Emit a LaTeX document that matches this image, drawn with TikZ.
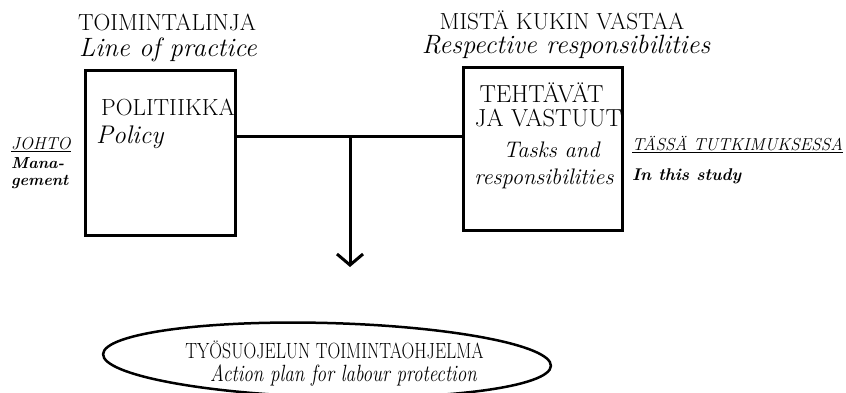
\documentclass[tikz,border=0pt]{standalone}
\usepackage{graphicx}
\usetikzlibrary{arrows.meta,calc}
\begin{document}
\begin{tikzpicture}[x=1pt,y=-1pt,
  frame/.style={draw,line width=3pt,minimum width=#1,inner sep=0pt},
  lbl/.style={inner sep=0pt,anchor=center},
  head/.style={lbl,font=\fontsize{23.3}{25}\selectfont},
  boxhead/.style={lbl,font=\fontsize{24.6}{26}\selectfont},
  headit/.style={lbl,font=\fontsize{26.5}{28}\selectfont\itshape},
  boxit/.style={lbl,font=\fontsize{22.5}{24}\selectfont\itshape},
  side/.style={lbl,anchor=west,font=\fontsize{17.3}{19}\selectfont\itshape},
  sidebf/.style={lbl,anchor=west,font=\fontsize{16}{18}\selectfont\bfseries\itshape},
  conn/.style={line width=3pt}]
\useasboundingbox (0,0) rectangle (846,393);
\begin{scope}
\clip (0,0) rectangle (846,393);

% column headings
\node[head] (h1) at (167,22) {TOIMINTALINJA};
\node[headit] (h1e) at (168,50) {Line of practice};
\node[head] (h2) at (562,20) {MISTÄ KUKIN VASTAA};
\node[headit] (h2e) at (566,47) {Respective responsibilities};

% the two boxes
\node[frame=150pt,minimum height=164pt] (lbox) at (160,153) {};
\node[frame=159pt,minimum height=162pt] (rbox) at (542.5,149) {};

% text in the left box
\node[head,anchor=west] (pol) at (101,107) {POLITIIKKA};
\node[headit,anchor=west,font=\fontsize{25.5}{27}\selectfont\itshape] (pole) at (96,137) {Policy};

% text in the right box
\node[boxhead] (t1) at (541.5,93) {TEHTÄVÄT};
\node[boxhead] (t2) at (548.5,118) {JA VASTUUT};
\node[boxit] (t3) at (551.5,150) {Tasks and};
\node[boxit] (t4) at (544,179) {responsibilities};

% side labels
\node[side] (joh) at (11,145) {\underline{JOHTO}};
\node[sidebf] (man1) at (11,163) {Mana-};
\node[sidebf] (man2) at (11,182) {gement};
\node[side] (tas) at (632,145) {\underline{TÄSSÄ TUTKIMUKSESSA}};
\node[sidebf,font=\fontsize{17}{19}\selectfont\bfseries\itshape] (its) at (632,176) {In this study};

% connectors
\coordinate (jn) at (350,137);
\coordinate (tip) at (350,267);
\draw[conn] (lbox.east |- jn) -- (rbox.west |- jn);
\draw[conn,-{Straight Barb[length=11pt,width=26pt,line width=3pt]}] (jn) -- (tip);

% action plan ellipse
\draw[line width=2.5pt,rotate around={-1.5:(327,360)}] (327,360) ellipse [x radius=224, y radius=37];
\node[lbl,font=\fontsize{22}{24}\selectfont] (ap1) at (334.5,350) {\scalebox{0.805}[1]{TYÖSUOJELUN TOIMINTAOHJELMA}};
\node[lbl,font=\fontsize{23.5}{25}\selectfont\itshape] (ap2) at (343.5,376) {\scalebox{0.81}[1]{Action plan for labour protection}};
\end{scope}
\end{tikzpicture}
\end{document}
